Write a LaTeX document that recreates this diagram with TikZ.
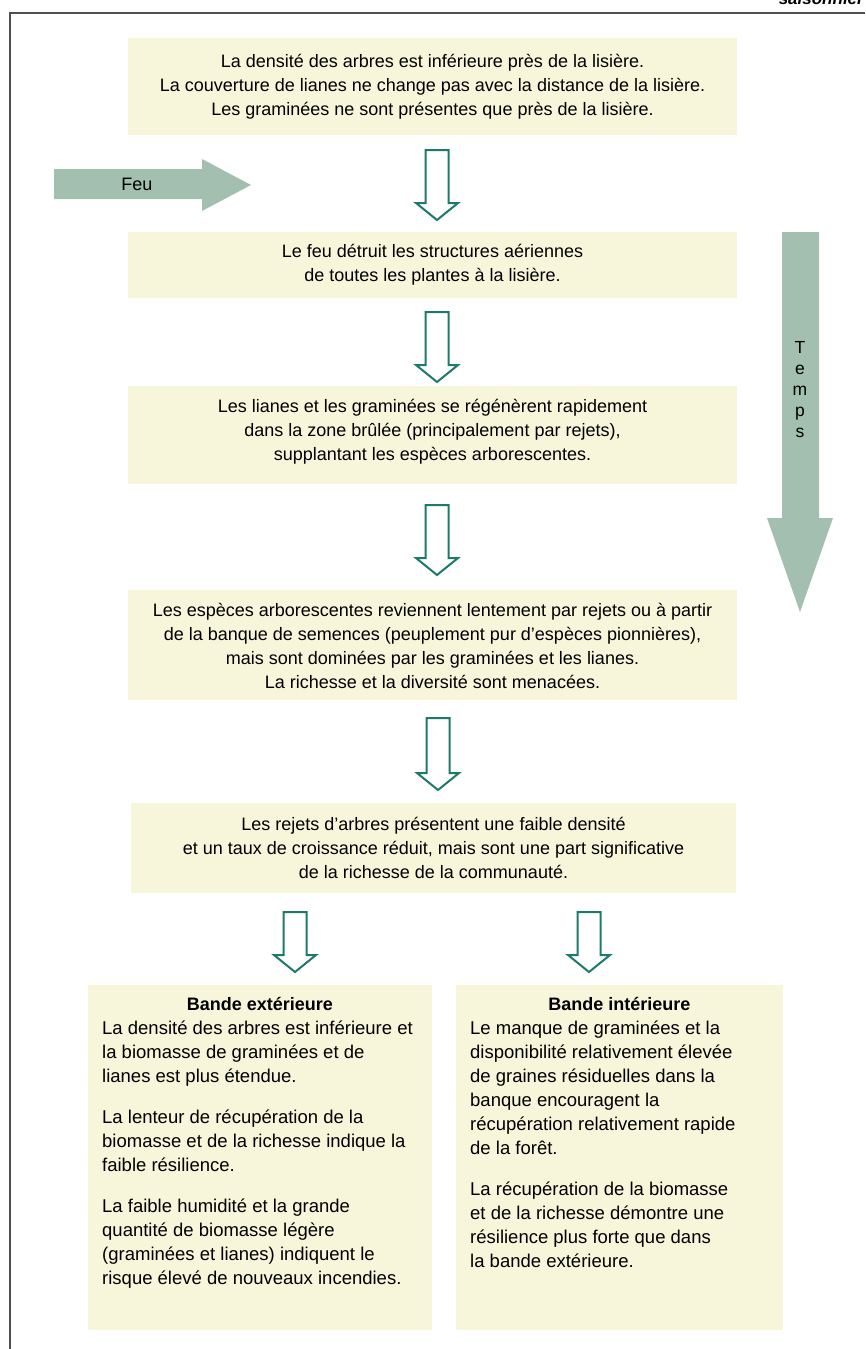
\documentclass[tikz,border=0pt]{standalone}
\usepackage{fontspec}
\setmainfont{Liberation Sans}
\definecolor{boxfill}{HTML}{F8F6DA}
\definecolor{sage}{HTML}{A3BFAF}
\definecolor{tealline}{HTML}{1D7A68}
\definecolor{frameg}{HTML}{505050}
\newcommand\hollowarrow[4]{% name, x, ytop, ytip
  \draw[hollow] (#2-11.5,#3) coordinate (#1-top) -- (#2+11.5,#3) -- (#2+11.5,#4-17) -- (#2+21,#4-17)
     -- (#2,#4) coordinate (#1-tip) -- (#2-21,#4-17) -- (#2-11.5,#4-17) -- cycle;}
\begin{document}
\begin{tikzpicture}[x=1pt,y=-1pt,
  box/.style={fill=boxfill, inner sep=0pt},
  plain/.style={inner sep=0pt, font=\fontsize{18}{24}\selectfont},
  lower/.style={inner sep=0pt, font=\fontsize{18.5}{24}\selectfont},
  fat/.style={fill=sage, draw=none},
  hollow/.style={draw=tealline, line width=2pt, fill=white, line join=miter},
  frameline/.style={draw=frameg, line width=2pt}]
\useasboundingbox (0,0) rectangle (865,1349);

% frame
\draw[frameline] (9,13) coordinate (fa) -- (865,13) coordinate (fb);
\draw[frameline] (10,12) coordinate (fc) -- (10,1349) coordinate (fd);
\node[inner sep=0pt, anchor=base east, font=\fontsize{17}{20}\selectfont\bfseries\itshape] (corner) at (864,5) {saisonnier};

% main boxes
\node[box, minimum width=609, minimum height=97] (b1) at (432.5,86.5) {};
\node[plain, align=center] (t1) at (432.5,87) {La densité des arbres est inférieure près de la lisière.\\La couverture de lianes ne change pas avec la distance de la lisière.\\Les graminées ne sont présentes que près de la lisière.};

\node[box, minimum width=609, minimum height=66] (b2) at (432.5,265) {};
\node[plain, align=center] (t2) at (432.5,265) {Le feu détruit les structures aériennes\\de toutes les plantes à la lisière.};

\node[box, minimum width=609, minimum height=98] (b3) at (432.5,435) {};
\node[plain, align=center] (t3) at (432.5,432) {Les lianes et les graminées se régénèrent rapidement\\dans la zone brûlée (principalement par rejets),\\supplantant les espèces arborescentes.};

\node[box, minimum width=609, minimum height=110] (b4) at (432.5,645) {};
\node[plain, align=center] (t4) at (432.5,646) {Les espèces arborescentes reviennent lentement par rejets ou à partir\\de la banque de semences (peuplement pur d’espèces pionnières),\\mais sont dominées par les graminées et les lianes.\\La richesse et la diversité sont menacées.};

\node[box, minimum width=605, minimum height=90] (b5) at (433.5,848) {};
\node[plain, align=center] (t5) at (433.5,848) {Les rejets d’arbres présentent une faible densité\\et un taux de croissance réduit, mais sont une part significative\\de la richesse de la communauté.};

% bottom boxes
\node[box, minimum width=344, minimum height=345] (b6) at (260,1157.5) {};
\node[box, minimum width=327, minimum height=345] (b7) at (619.5,1157.5) {};
\node[plain, font=\fontsize{18}{24}\selectfont\bfseries] (h6) at (260,1004) {Bande extérieure};
\node[plain, font=\fontsize{18}{24}\selectfont\bfseries] (h7) at (619.5,1004) {Bande intérieure};
\node[lower, align=left, anchor=north west] (t6) at (102,1021) {La densité des arbres est inférieure et\\la biomasse de graminées et de\\lianes est plus étendue.\\[17pt]La lenteur de récupération de la\\biomasse et de la richesse indique la\\faible résilience.\\[17pt]La faible humidité et la grande\\quantité de biomasse légère\\(graminées et lianes) indiquent le\\risque élevé de nouveaux incendies.};
\node[lower, align=left, anchor=north west] (t7) at (470,1021) {Le manque de graminées et la\\disponibilité relativement élevée\\de graines résiduelles dans la\\banque encouragent la\\récupération relativement rapide\\de la forêt.\\[17pt]La récupération de la biomasse\\et de la richesse démontre une\\résilience plus forte que dans\\la bande extérieure.};

% Feu arrow
\fill[fat] (54,169) -- (202,169) -- (202,159) -- (251,185) -- (202,211) -- (202,199) -- (54,199) -- cycle;
\node[plain] (feu) at (137,184) {Feu};

% Temps arrow
\fill[fat] (782,232) -- (819,232) -- (819,518) -- (833,518) -- (800,612) -- (767,518) -- (782,518) -- cycle;
\node[plain, align=center, font=\fontsize{17.5}{21}\selectfont] (temps) at (800,390) {T\\e\\m\\p\\s};

% hollow arrows
\hollowarrow{a1}{437}{150}{220}
\hollowarrow{a2}{437}{312}{382}
\hollowarrow{a3}{437}{505}{575}
\hollowarrow{a4}{438}{718}{790}
\hollowarrow{a5}{295}{912}{972}
\hollowarrow{a6}{589}{912}{972}
\end{tikzpicture}
\end{document}
